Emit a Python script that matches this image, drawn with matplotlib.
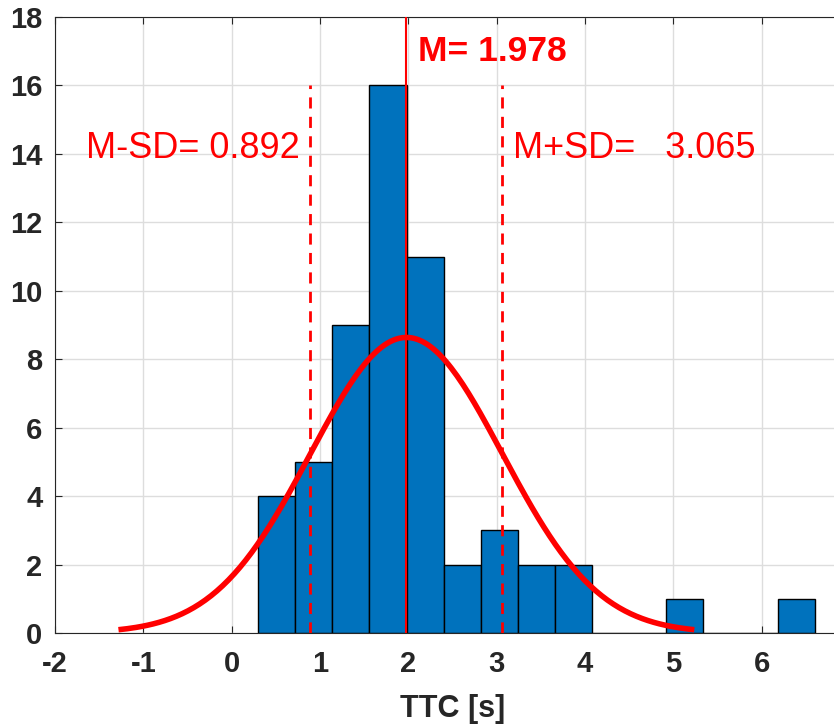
import numpy as np
import matplotlib.pyplot as plt

# histogram of TTC values (bin edges)
bin_start = 0.30
bin_width = 0.42
counts = [4, 5, 9, 16, 11, 2, 3, 2, 2, 0, 0, 1, 0, 0, 1]
mean_ttc = 1.978
sd_ttc = 1.0865
lo_ttc = 0.892
hi_ttc = 3.065

edges = bin_start + bin_width * np.arange(len(counts) + 1)
n_total = sum(counts)

plt.rcParams['font.family'] = ['Liberation Sans', 'DejaVu Sans']
plt.rcParams['axes.unicode_minus'] = False

fig = plt.figure(figsize=(8.34, 7.24), dpi=100)
ax = fig.add_axes([55 / 834, 91 / 724, 795 / 834, 616 / 724])

ax.bar(edges[:-1], counts, width=bin_width, align='edge',
       color='#0072BD', edgecolor='black', linewidth=1.0, zorder=2)

# fitted normal curve, mean +/- 3 SD
xs = np.linspace(mean_ttc - 3 * sd_ttc, mean_ttc + 3 * sd_ttc, 200)
ys = n_total * bin_width * np.exp(-0.5 * ((xs - mean_ttc) / sd_ttc) ** 2) / (sd_ttc * np.sqrt(2 * np.pi))
ax.plot(xs, ys, color='red', lw=4, zorder=4, solid_capstyle='butt')

ax.plot([mean_ttc, mean_ttc], [0, 18], color='red', lw=1.5, zorder=3)
ax.plot([lo_ttc, lo_ttc], [0, 16], color='red', lw=2, ls=(0, (4, 3)), zorder=3)
ax.plot([hi_ttc, hi_ttc], [0, 16], color='red', lw=2, ls=(0, (4, 3)), zorder=3)

ax.text(2.11, 17.0, 'M= %.3f' % mean_ttc, color='red', fontsize=25.5,
        fontweight='bold', va='center', ha='left')
ax.text(-1.65, 14.15, 'M-SD= %.3f' % lo_ttc, color='red', fontsize=26,
        va='center', ha='left')
ax.text(3.19, 14.15, 'M+SD=   %.3f' % hi_ttc, color='red', fontsize=26,
        va='center', ha='left')

ax.set_xlim(-2, 7)
ax.set_ylim(0, 18)
ax.set_xticks(range(-2, 7))
ax.set_yticks(range(0, 19, 2))
ax.grid(True, color='#dddddd', lw=1, zorder=0)
ax.set_axisbelow(True)
ax.tick_params(direction='in', length=5, top=True, right=False,
               labelsize=21, colors='#262626', pad=12)
ax.tick_params(axis='y', pad=9)
for lab in ax.get_xticklabels() + ax.get_yticklabels():
    lab.set_fontweight('bold')
for s in ['left', 'bottom', 'top']:
    ax.spines[s].set_color('#262626')
ax.spines['right'].set_visible(False)
ax.set_xlabel('TTC [s]', fontsize=22, fontweight='bold', color='#262626', labelpad=12)

plt.savefig('out.png', dpi=100)
